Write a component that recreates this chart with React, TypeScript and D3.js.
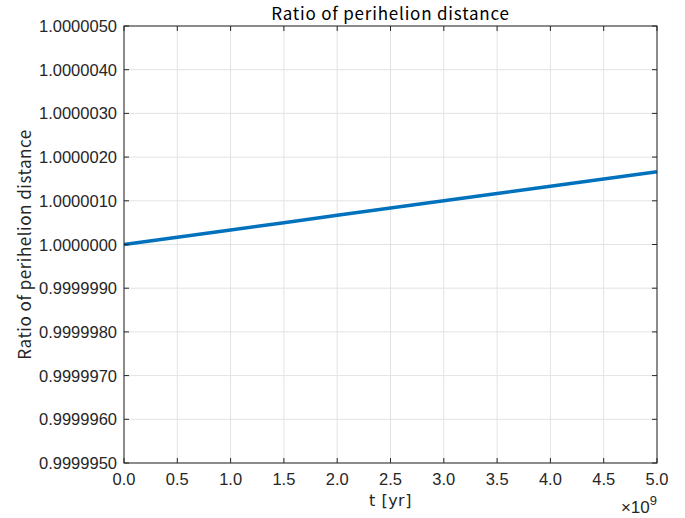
import React from "react";
import * as d3 from "d3";

const tValues = [0, 0.5e9, 1.0e9, 1.5e9, 2.0e9, 2.5e9, 3.0e9, 3.5e9, 4.0e9, 4.5e9, 5.0e9];
const ratioValues = [1.0, 1.000000167, 1.000000333, 1.0000005, 1.000000667, 1.000000833, 1.000001, 1.000001167, 1.000001333, 1.0000015, 1.000001667];
const xTicks = [0, 0.5, 1.0, 1.5, 2.0, 2.5, 3.0, 3.5, 4.0, 4.5, 5.0];
const yTicks = [0.999995, 0.999996, 0.999997, 0.999998, 0.999999, 1.0, 1.000001, 1.000002, 1.000003, 1.000004, 1.000005];
const titleText = "Ratio of perihelion distance";
const xLabel = "t [yr]";
const yLabel = "Ratio of perihelion distance";

export default function App() {
  const W = 685, H = 518;
  const L = 124, R = 657, T = 26, B = 463;
  const x = d3.scaleLinear().domain([0, 5e9]).range([L, R]);
  const y = d3.scaleLinear().domain([0.999995, 1.000005]).range([B, T]);
  const line = d3.line<number>().x((_, i) => x(tValues[i])).y((d) => y(d));
  const axisColor = "#262626";
  const gridColor = "#e3e3e3";
  const tickFont = "'Liberation Sans', Arial, sans-serif";
  const cjk = "'Noto Sans CJK JP', sans-serif";
  const tl = 5;
  return (
    <svg width={W} height={H} style={{ position: "absolute", left: 0, top: 0, background: "#fff" }}>
      <rect x={0} y={0} width={W} height={H} fill="#fff" />
      {xTicks.map((t) => (
        <line key={"gx" + t} x1={x(t * 1e9)} x2={x(t * 1e9)} y1={T} y2={B} stroke={gridColor} strokeWidth={1} />
      ))}
      {yTicks.map((t) => (
        <line key={"gy" + t} x1={L} x2={R} y1={y(t)} y2={y(t)} stroke={gridColor} strokeWidth={1} />
      ))}
      <path d={line(ratioValues) || ""} fill="none" stroke="#0072BD" strokeWidth={3.5} />
      <rect x={L} y={T} width={R - L} height={B - T} fill="none" stroke={axisColor} strokeWidth={1} />
      {xTicks.map((t) => (
        <g key={"tx" + t}>
          <line x1={x(t * 1e9)} x2={x(t * 1e9)} y1={B} y2={B - tl} stroke={axisColor} />
          <line x1={x(t * 1e9)} x2={x(t * 1e9)} y1={T} y2={T + tl} stroke={axisColor} />
          <text x={x(t * 1e9)} y={485} textAnchor="middle" fontFamily={tickFont} fontSize={16.5} fill={axisColor}>
            {t.toFixed(1)}
          </text>
        </g>
      ))}
      {yTicks.map((t) => (
        <g key={"ty" + t}>
          <line x1={L} x2={L + tl} y1={y(t)} y2={y(t)} stroke={axisColor} />
          <line x1={R} x2={R - tl} y1={y(t)} y2={y(t)} stroke={axisColor} />
          <text x={117} y={y(t) + 6} textAnchor="end" fontFamily={tickFont} fontSize={16.5} fill={axisColor}>
            {t.toFixed(7)}
          </text>
        </g>
      ))}
      <text x={(L + R) / 2} y={20} textAnchor="middle" fontFamily={cjk} fontSize={17} letterSpacing={0.8} fill="#000">
        {titleText}
      </text>
      <text x={(L + R) / 2} y={506} textAnchor="middle" fontFamily="'DejaVu Sans', sans-serif" fontSize={16} letterSpacing={0.5} fill={axisColor}>
        {xLabel}
      </text>
      <text transform={`translate(31, ${(T + B) / 2}) rotate(-90)`} textAnchor="middle" fontFamily={cjk} fontSize={17} letterSpacing={0.5} fill={axisColor}>
        {yLabel}
      </text>
      <text x={R} y={513} textAnchor="end" fontFamily={tickFont} fontSize={17} fill={axisColor}>
        ×10<tspan dy={-8} fontSize={13}>9</tspan>
      </text>
    </svg>
  );
}
